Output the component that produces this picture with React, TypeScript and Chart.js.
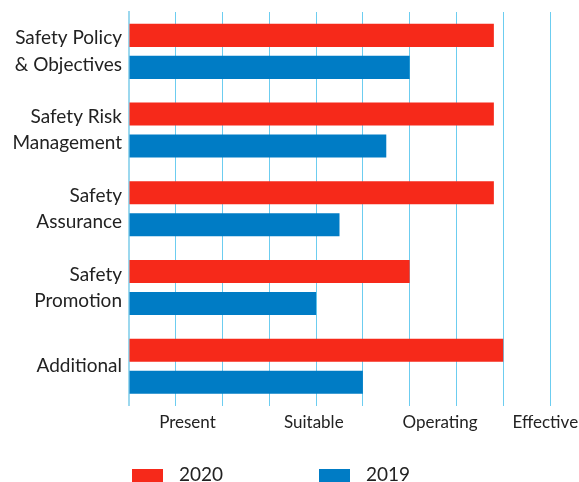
import { useEffect, useRef } from "react";
import { Chart, registerables } from "chart.js";

Chart.register(...registerables);

const categories: string[][] = [
  ["Safety Policy", "& Objectives"],
  ["Safety Risk", "Management"],
  ["Safety", "Assurance"],
  ["Safety", "Promotion"],
  ["Additional"],
];
const series2020 = [7.8, 7.8, 7.8, 6, 8];
const series2019 = [6, 5.5, 4.5, 4, 5];
const levelLabels = ["Present", "Suitable", "Operating", "Effective"];
const levelPositions = [1.25, 3.95, 6.65, 8.9];
const scaleMin = 0;
const scaleMax = 9;

const RED = "#f6291a";
const BLUE = "#007cc5";
const GRID = "#6ccdf0";
const AXIS = "#9cd8ee";
const TEXT = "#222222";
const FONT = "Lato";

const legendPlugin = {
  id: "customLegend",
  afterDraw(chart: any) {
    const ctx = chart.ctx;
    const xs = [132, 319];
    ctx.save();
    chart.data.datasets.forEach((ds: any, i: number) => {
      ctx.fillStyle = ds.backgroundColor;
      ctx.fillRect(xs[i], 469, 31, 14);
      ctx.fillStyle = TEXT;
      ctx.font = `19px ${FONT}`;
      ctx.textBaseline = "middle";
      ctx.textAlign = "left";
      ctx.fillText(ds.label, xs[i] + 47, 475);
    });
    ctx.restore();
  },
};

export default function App() {
  const ref = useRef<HTMLCanvasElement | null>(null);
  useEffect(() => {
    if (!ref.current) return;
    const chart = new Chart(ref.current, {
      type: "bar",
      data: {
        labels: categories,
        datasets: [
          { label: "2020", data: series2020, backgroundColor: RED, xAxisID: "x" },
          { label: "2019", data: series2019, backgroundColor: BLUE, xAxisID: "x" },
        ],
      },
      options: {
        indexAxis: "y",
        animation: false,
        responsive: true,
        maintainAspectRatio: false,
        layout: { padding: { left: 0, right: 29, top: 12, bottom: 42 } },
        datasets: { bar: { categoryPercentage: 0.813, barPercentage: 0.72 } },
        plugins: { legend: { display: false }, tooltip: { enabled: false } },
        scales: {
          x: {
            type: "linear",
            position: "bottom",
            min: scaleMin,
            max: scaleMax,
            ticks: { display: false, stepSize: 1 },
            grid: { color: GRID, lineWidth: 1, drawTicks: false },
            border: { display: false },
            afterFit: (scale: any) => {
              scale.paddingLeft = 0;
              scale.paddingRight = 0;
            },
          },
          xl: {
            type: "linear",
            axis: "x",
            position: "bottom",
            min: scaleMin,
            max: scaleMax,
            grid: { display: false, drawTicks: false },
            border: { display: false },
            afterBuildTicks: (scale: any) => {
              scale.ticks = levelPositions.map((v) => ({ value: v }));
            },
            afterFit: (scale: any) => {
              scale.paddingLeft = 0;
              scale.paddingRight = 0;
            },
            ticks: {
              autoSkip: false,
              maxRotation: 0,
              padding: 7,
              color: TEXT,
              font: { family: FONT, size: 17 },
              callback: (_v: any, i: number) => levelLabels[i],
            },
          },
          y: {
            grid: { display: false, drawTicks: false },
            border: { display: true, color: AXIS, width: 2 },
            afterFit: (scale: any) => {
              scale.width = 129;
              scale.paddingTop = 0;
              scale.paddingBottom = 0;
            },
            ticks: {
              padding: 7,
              color: TEXT,
              font: { family: FONT, size: 19, lineHeight: 1.37 },
            },
          },
        },
      },
      plugins: [legendPlugin],
    });
    return () => chart.destroy();
  }, []);
  return (
    <div style={{ position: "absolute", left: 0, top: 0, width: 579, height: 482 }}>
      <canvas ref={ref} />
    </div>
  );
}
